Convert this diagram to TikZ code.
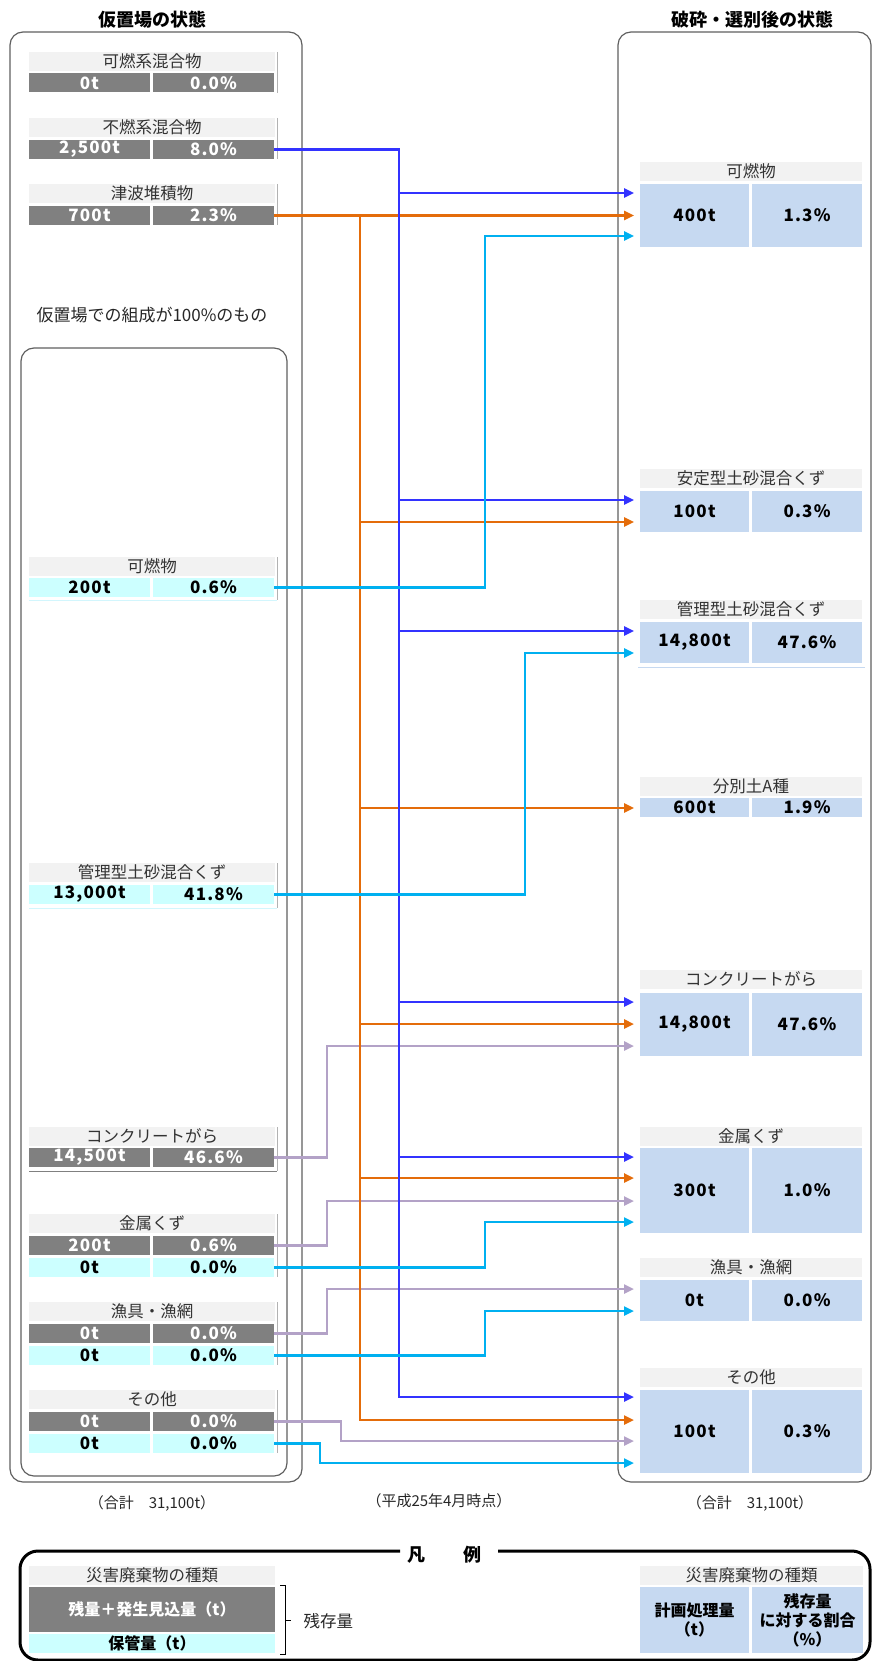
\documentclass[tikz,border=0pt]{standalone}
\usepackage{fontspec}
\setmainfont{Noto Sans CJK JP}
\newfontfamily\numfont{Noto Sans CJK JP}[LetterSpace=7]
\usetikzlibrary{arrows.meta}
\definecolor{labg}{HTML}{F2F2F2}
\definecolor{darkc}{HTML}{808080}
\definecolor{cyc}{HTML}{CCFFFF}
\definecolor{bluec}{HTML}{C6D9F1}
\definecolor{lnb}{HTML}{3333FF}
\definecolor{lno}{HTML}{E46C0A}
\definecolor{lnc}{HTML}{00B0F0}
\definecolor{lnp}{HTML}{B3A2C7}
\definecolor{frm}{HTML}{606060}
\begin{document}
\begin{tikzpicture}[x=1pt,y=-1pt,
  base/.style={inner sep=0pt, outer sep=0pt},
  lab/.style={base, fill=labg, minimum width=246pt, minimum height=19pt, text=black!80, font=\fontsize{16.5}{17}\selectfont},
  rlab/.style={lab, minimum width=222pt},
  gc/.style={base, fill=darkc, text=white, minimum width=121pt, minimum height=19pt, font=\numfont\fontsize{17}{18}\selectfont\bfseries},
  cc/.style={gc, fill=cyc, text=black, font=\numfont\fontsize{17}{18}\selectfont\bfseries},
  rc/.style={base, fill=bluec, text=black, minimum width=109pt, font=\numfont\fontsize{17}{18}\selectfont\bfseries},
  boxline/.style={draw=frm, line width=1.2pt, rounded corners=13pt},
  tick/.style={draw=black!30, line width=0.8pt},
  wire/.style={line width=2.4pt},
  arr/.style={-{Triangle[length=10pt,width=9pt]}},
  bl/.style={wire, draw=lnb}, ol/.style={wire, draw=lno},
  cl/.style={wire, draw=lnc}, pl/.style={wire, draw=lnp},
  ttl/.style={font=\fontsize{18}{20}\selectfont\bfseries},
  note/.style={font=\fontsize{15}{17}\selectfont, text=black!85},
  lgd/.style={font=\fontsize{16}{19}\selectfont\bfseries}
]
\useasboundingbox (0,0) rectangle (872,1661);

% titles
\node[ttl] (t1) at (152,20) {仮置場の状態};
\node[ttl] (t2) at (752,20) {破砕・選別後の状態};

% frames
\draw[boxline] (10,32) rectangle (302,1482);
\draw[boxline] (21,348) rectangle (287,1476);
\draw[boxline] (618,32) rectangle (871,1482);
\node[note, font=\fontsize{17}{18}\selectfont] (sub) at (152,315) {仮置場での組成が100\%のもの};

% ---------- left rows ----------
% 1
\node[lab] (L1l) at (152,61.5) {可燃系混合物};
\node[gc] (L1a) at (89.5,83) {0t};
\node[gc] (L1b) at (213.5,83) {0.0\%};
\draw[tick] (277,52) -- (277,93);
% 2
\node[lab] (L2l) at (152,127.5) {不燃系混合物};
\node[gc] (L2a) at (89.5,149.5) {2,500t};
\node[gc] (L2b) at (213.5,149.5) {8.0\%};
\draw[tick] (277,118) -- (277,159);
% 3
\node[lab] (L3l) at (152,193.5) {津波堆積物};
\node[gc] (L3a) at (89.5,215.5) {700t};
\node[gc] (L3b) at (213.5,215.5) {2.3\%};
\draw[tick] (277,184) -- (277,225);
% 4
\node[lab] (L4l) at (152,566.5) {可燃物};
\node[cc] (L4a) at (89.5,587.5) {200t};
\node[cc] (L4b) at (213.5,587.5) {0.6\%};
\draw[tick] (277,557) -- (277,600);
\draw[draw=cyc!70!lnc!40, line width=0.8pt] (29,600) -- (277,600);
% 5
\node[lab] (L5l) at (152,872.5) {管理型土砂混合くず};
\node[cc] (L5a) at (89.5,894.5) {13,000t};
\node[cc] (L5b) at (213.5,894.5) {41.8\%};
\draw[tick] (277,863) -- (277,908);
\draw[draw=cyc!70!lnc!40, line width=0.8pt] (29,908) -- (277,908);
% 6
\node[lab] (L6l) at (152,1136.5) {コンクリートがら};
\node[gc] (L6a) at (89.5,1157.5) {14,500t};
\node[gc] (L6b) at (213.5,1157.5) {46.6\%};
\draw[tick] (277,1127) -- (277,1171);
\draw[draw=darkc, line width=1pt] (29,1171) -- (277,1171);
% 7
\node[lab] (L7l) at (152,1223.5) {金属くず};
\node[gc] (L7a) at (89.5,1245.5) {200t};
\node[gc] (L7b) at (213.5,1245.5) {0.6\%};
\node[cc] (L7c) at (89.5,1267.5) {0t};
\node[cc] (L7d) at (213.5,1267.5) {0.0\%};
\draw[tick] (277,1214) -- (277,1277);
% 8
\node[lab] (L8l) at (152,1311.5) {漁具・漁網};
\node[gc] (L8a) at (89.5,1333.5) {0t};
\node[gc] (L8b) at (213.5,1333.5) {0.0\%};
\node[cc] (L8c) at (89.5,1355.5) {0t};
\node[cc] (L8d) at (213.5,1355.5) {0.0\%};
\draw[tick] (277,1302) -- (277,1365);
% 9
\node[lab] (L9l) at (152,1399.5) {その他};
\node[gc] (L9a) at (89.5,1421.5) {0t};
\node[gc] (L9b) at (213.5,1421.5) {0.0\%};
\node[cc] (L9c) at (89.5,1443.5) {0t};
\node[cc] (L9d) at (213.5,1443.5) {0.0\%};
\draw[tick] (277,1390) -- (277,1453);

% ---------- right rows ----------
\node[rlab] (R1l) at (751,171.5) {可燃物};
\node[rc, minimum height=63pt] (R1a) at (694.5,215.5) {400t};
\node[rc, minimum height=63pt, minimum width=110pt] (R1b) at (807,215.5) {1.3\%};

\node[rlab] (R2l) at (751,478.5) {安定型土砂混合くず};
\node[rc, minimum height=41pt] (R2a) at (694.5,511.5) {100t};
\node[rc, minimum height=41pt, minimum width=110pt] (R2b) at (807,511.5) {0.3\%};

\node[rlab] (R3l) at (751,609) {管理型土砂混合くず};
\node[rc, minimum height=41pt] (R3a) at (694.5,642.5) {14,800t};
\node[rc, minimum height=41pt, minimum width=110pt] (R3b) at (807,642.5) {47.6\%};
\draw[draw=bluec, line width=1pt] (638,667) -- (865,667);

\node[rlab] (R4l) at (751,786) {分別土A種};
\node[rc, minimum height=19pt] (R4a) at (694.5,807.5) {600t};
\node[rc, minimum height=19pt, minimum width=110pt] (R4b) at (807,807.5) {1.9\%};

\node[rlab] (R5l) at (751,979.5) {コンクリートがら};
\node[rc, minimum height=63pt] (R5a) at (694.5,1024.5) {14,800t};
\node[rc, minimum height=63pt, minimum width=110pt] (R5b) at (807,1024.5) {47.6\%};

\node[rlab] (R6l) at (751,1136.5) {金属くず};
\node[rc, minimum height=85pt] (R6a) at (694.5,1190.5) {300t};
\node[rc, minimum height=85pt, minimum width=110pt] (R6b) at (807,1190.5) {1.0\%};

\node[rlab] (R7l) at (751,1267.5) {漁具・漁網};
\node[rc, minimum height=41pt] (R7a) at (694.5,1300.5) {0t};
\node[rc, minimum height=41pt, minimum width=110pt] (R7b) at (807,1300.5) {0.0\%};

\node[rlab] (R8l) at (751,1377.5) {その他};
\node[rc, minimum height=83pt] (R8a) at (694.5,1431.5) {100t};
\node[rc, minimum height=83pt, minimum width=110pt] (R8b) at (807,1431.5) {0.3\%};

% ---------- arrow tips and trunks ----------
\coordinate (tB1) at (634,193);
\coordinate (tB2) at (634,500);
\coordinate (tB3) at (634,631);
\coordinate (tB4) at (634,1002);
\coordinate (tB5) at (634,1157);
\coordinate (tB6) at (634,1397);
\coordinate (tO1) at (634,215.5);
\coordinate (tO2) at (634,522);
\coordinate (tO3) at (634,808);
\coordinate (tO4) at (634,1024);
\coordinate (tO5) at (634,1178);
\coordinate (tO6) at (634,1420);
\coordinate (tC1) at (634,236);
\coordinate (tC2) at (634,653);
\coordinate (tC3) at (634,1222);
\coordinate (tC4) at (634,1311);
\coordinate (tC5) at (634,1463);
\coordinate (tP1) at (634,1046);
\coordinate (tP2) at (634,1201);
\coordinate (tP3) at (634,1289);
\coordinate (tP4) at (634,1441);
\coordinate (TB) at (399,0);
\coordinate (TO) at (360,0);
\coordinate (TC1) at (485,0);
\coordinate (TC2) at (525,0);
\coordinate (TC3) at (320,0);
\coordinate (TP) at (327,0);
\coordinate (TP2) at (341,0);

% purple
\draw[pl,arr] (L6b.east) -- (L6b.east -| TP) -- (TP |- tP1) -- (tP1);
\draw[pl,arr] (L7b.east) -- (L7b.east -| TP) -- (TP |- tP2) -- (tP2);
\draw[pl,arr] (L8b.east) -- (L8b.east -| TP) -- (TP |- tP3) -- (tP3);
\draw[pl,arr] (L9b.east) -- (L9b.east -| TP2) -- (TP2 |- tP4) -- (tP4);
% orange
\draw[ol,arr] (L3b.east) -- (tO1);
\draw[ol,arr] (TO |- tO1) -- (TO |- tO6) -- (tO6);
\foreach \t in {tO2,tO3,tO4,tO5} \draw[ol,arr] (TO |- \t) -- (\t);
% blue
\draw[bl,arr] (L2b.east) -- (L2b.east -| TB) -- (TB |- tB6) -- (tB6);
\foreach \t in {tB1,tB2,tB3,tB4,tB5} \draw[bl,arr] (TB |- \t) -- (\t);
% cyan
\draw[cl,arr] (L4b.east) -- (L4b.east -| TC1) -- (TC1 |- tC1) -- (tC1);
\draw[cl,arr] (L5b.east) -- (L5b.east -| TC2) -- (TC2 |- tC2) -- (tC2);
\draw[cl,arr] (L7d.east) -- (L7d.east -| TC1) -- (TC1 |- tC3) -- (tC3);
\draw[cl,arr] (L8d.east) -- (L8d.east -| TC1) -- (TC1 |- tC4) -- (tC4);
\draw[cl,arr] (L9d.east) -- (L9d.east -| TC3) -- (TC3 |- tC5) -- (tC5);

% ---------- notes ----------
\node[note] (sumL) at (152,1503) {（合計　31,100t）};
\node[note] (date) at (439,1501) {（平成25年4月時点）};
\node[note] (sumR) at (750,1503) {（合計　31,100t）};

% ---------- legend ----------
\draw[line width=3pt, rounded corners=18pt] (400,1551) -- (20,1551) -- (20,1660) -- (870,1660) -- (870,1551) -- (498,1551);
\node[ttl] (leg) at (444,1555) {凡\hspace{38pt}例};

\node[lab] (G1) at (152,1575) {災害廃棄物の種類};
\node[gc, minimum width=246pt, minimum height=45pt, lgd] (G2) at (152,1609.5) {残量＋発生見込量（t）};
\node[cc, minimum width=246pt, minimum height=19pt, lgd] (G3) at (152,1643.5) {保管量（t）};
\draw[line width=1pt] (280,1585) -- (285,1585) -- (285,1654) -- (280,1654);
\draw[line width=1pt] (285,1620) -- (291,1620);
\node[note, font=\fontsize{16.5}{18}\selectfont, anchor=west] (G4) at (300,1621) {残存量};

\node[rlab, minimum width=223pt] (H1) at (751.5,1575) {災害廃棄物の種類};
\node[rc, minimum height=66pt, align=center, lgd] (H2) at (694.5,1620) {計画処理量\\（t）};
\node[rc, minimum height=66pt, minimum width=111pt, align=center, lgd] (H3) at (807.5,1620) {残存量\\に対する割合\\（\%）};
\end{tikzpicture}
\end{document}
